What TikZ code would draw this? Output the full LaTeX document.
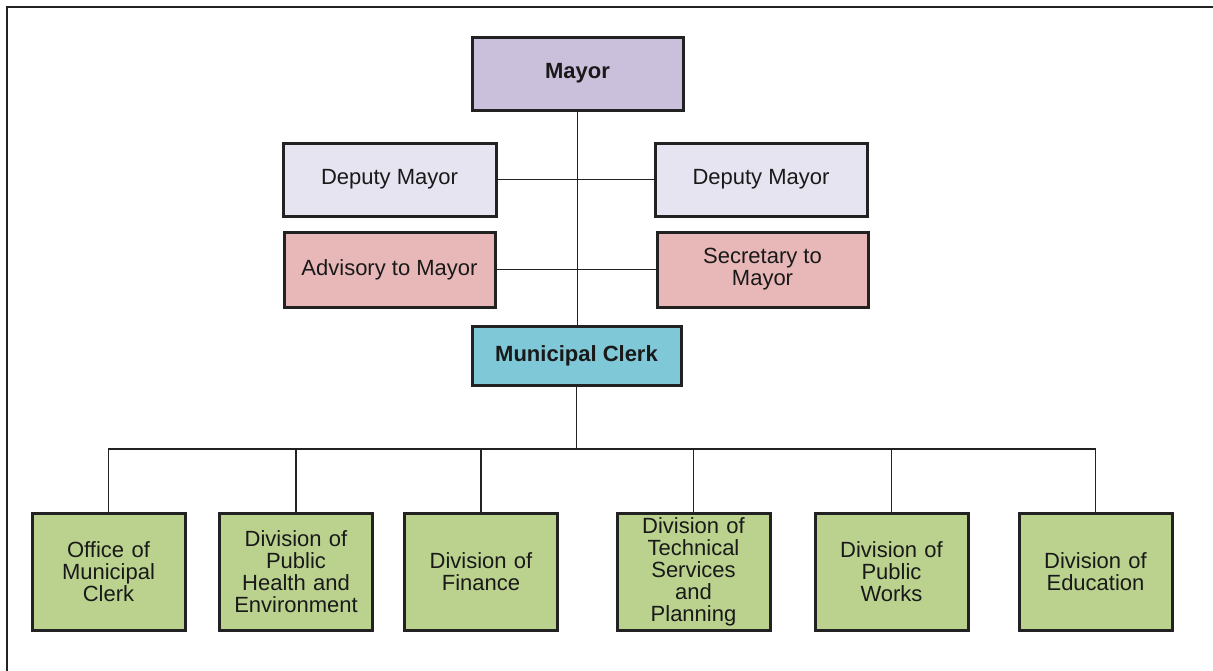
\documentclass[tikz,border=0pt]{standalone}
\usepackage{fontspec}
\setmainfont{Liberation Sans}
\definecolor{mayorc}{HTML}{CBC0DC}
\definecolor{deputyc}{HTML}{E7E4F1}
\definecolor{pinkc}{HTML}{E8B8B8}
\definecolor{clerkc}{HTML}{7EC8D8}
\definecolor{greenc}{HTML}{BBD28E}
\definecolor{linec}{HTML}{222222}
\begin{document}
\begin{tikzpicture}[x=1pt,y=-1pt,
  orgbox/.style={draw=linec,line width=3pt,minimum width=#1,inner sep=1pt,
    align=center,font=\fontsize{22}{22}\selectfont,text=black!90},
  orgbox/.default=211pt,
  divbox/.style={orgbox=153pt,minimum height=117pt,fill=greenc,text width=148pt},
  conn/.style={draw=linec,line width=1.6pt}]
\useasboundingbox (0,0) rectangle (1213,670);
\fill[white] (0,0) rectangle (1213,670);
\draw[line width=2pt,draw=linec] (7,680) -- (7,7) -- (1225,7);

\node[orgbox=211pt,minimum height=73pt,fill=mayorc,font=\fontsize{22}{22}\selectfont\bfseries] (mayor) at (577.5,73.5) {Mayor};
\node[orgbox=213pt,minimum height=73pt,fill=deputyc] (dl) at (389.5,179.5) {Deputy Mayor};
\node[orgbox=212pt,minimum height=73pt,fill=deputyc] (dr) at (761,179.5) {Deputy Mayor};
\node[orgbox=211pt,minimum height=75pt,fill=pinkc] (adv) at (389.5,269.5) {Advisory to Mayor};
\node[orgbox=211pt,minimum height=75pt,fill=pinkc] (sec) at (762.5,269.5) {Secretary to\\Mayor};
\node[orgbox=209pt,minimum height=59pt,fill=clerkc,font=\fontsize{22}{22}\selectfont\bfseries] (clerk) at (576.5,355.5) {Municipal Clerk};

\node[divbox] (d1) at (108.5,571.5) {Office of\\Municipal\\Clerk};
\node[divbox] (d2) at (296,571.5) {Division of\\Public\\Health and\\Environment};
\node[divbox] (d3) at (481,571.5) {Division of\\Finance};
\node[divbox] (d4) at (693.5,571.5) {Division of\\Technical\\Services\\and\\Planning};
\node[divbox] (d5) at (891.5,571.5) {Division of\\Public\\Works};
\node[divbox] (d6) at (1095.5,571.5) {Division of\\Education};

\coordinate (bus) at (576.5,449);
\draw[conn] (mayor.south) -- (mayor.south |- clerk.north);
\draw[conn] (dl.east) -- (dr.west);
\draw[conn] (adv.east) -- (sec.west);
\draw[conn] (clerk.south) -- (bus);
\draw[conn] (d1.north) -- (d1.north |- bus) -- (d6.north |- bus) -- (d6.north);
\foreach \d in {d2,d3,d4,d5} \draw[conn] (\d.north |- bus) -- (\d.north);
\end{tikzpicture}
\end{document}
